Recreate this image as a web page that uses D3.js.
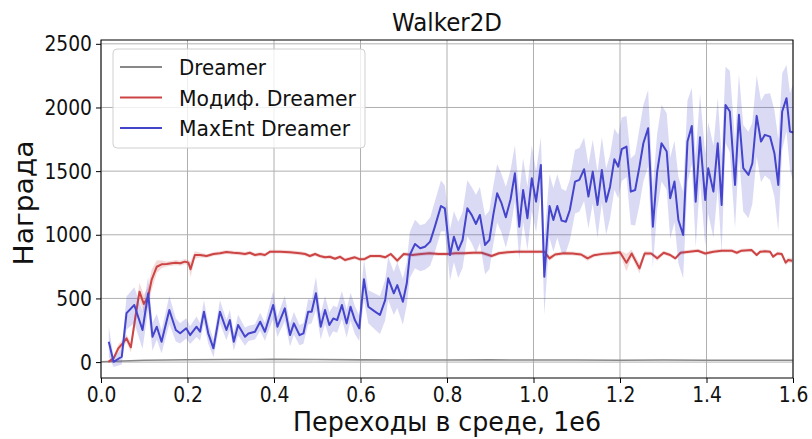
<!DOCTYPE html>
<html>
<head>
<meta charset="utf-8">
<script src="https://cdn.jsdelivr.net/npm/d3@7"></script>
<style>
body { margin: 0; background: #fff; }
text { font-family: "DejaVu Sans", sans-serif; fill: #111; }
</style>
</head>
<body>
<div id="chart"></div>
<script>
// Chart size
const W = 812, H = 439;
const margin = {top: 40, right: 19, bottom: 61, left: 101};
const width = W - margin.left - margin.right;
const height = H - margin.top - margin.bottom;

// Data (x in 1e6 steps)
const xTicks = [0, 0.2, 0.4, 0.6, 0.8, 1.0, 1.2, 1.4, 1.6];
const yTicks = [0, 500, 1000, 1500, 2000, 2500];

const grayX = [0.0, 0.05, 0.1, 0.2, 0.3, 0.4, 0.5, 0.6, 0.7, 0.8, 0.9, 1.0, 1.1, 1.2, 1.3, 1.4, 1.5, 1.6];
const grayY = [3, 8, 14, 18, 20, 21, 20, 17, 16, 16, 17, 16, 16, 15, 16, 15, 15, 15];

const redX = [0.017,0.029,0.040,0.050,0.059,0.069,0.079,0.089,0.099,0.109,0.117,0.129,0.140,0.152,0.163,0.173,0.183,0.194,0.202,0.207,0.217,0.229,0.244,0.260,0.275,0.290,0.306,0.321,0.333,0.344,0.356,0.368,0.379,0.391,0.414,0.437,0.460,0.472,0.483,0.495,0.506,0.518,0.529,0.541,0.553,0.564,0.587,0.599,0.610,0.622,0.645,0.657,0.670,0.685,0.700,0.720,0.740,0.760,0.780,0.800,0.820,0.840,0.860,0.880,0.903,0.920,0.940,0.960,0.980,1.000,1.017,1.025,1.037,1.050,1.070,1.090,1.110,1.125,1.140,1.160,1.180,1.200,1.215,1.227,1.245,1.257,1.272,1.286,1.301,1.316,1.328,1.340,1.360,1.380,1.397,1.416,1.435,1.458,1.470,1.481,1.504,1.516,1.524,1.535,1.547,1.554,1.564,1.574,1.583,1.589,1.598];
const redY = [2,29,108,147,186,116,343,553,456,513,645,749,768,770,776,781,776,789,781,729,841,841,833,849,855,865,859,855,849,859,841,849,841,867,867,863,855,849,833,849,833,823,827,812,827,802,823,807,810,833,833,823,849,797,849,841,849,855,849,849,855,855,859,859,833,855,863,867,867,867,867,867,815,845,855,853,845,815,840,850,855,862,781,853,736,853,853,815,859,841,815,859,867,875,853,867,875,875,859,875,880,841,867,870,867,828,853,849,781,802,796];
const redSd = [10,20,30,30,30,40,60,70,70,80,80,50,30,20,20,20,20,20,20,60,30,20,15,15,15,15,15,15,15,15,15,15,15,15,15,15,15,15,15,15,15,15,15,15,15,15,15,15,15,15,15,15,15,20,15,15,15,15,15,15,15,15,15,15,15,15,15,15,15,15,15,15,20,15,15,15,15,20,15,15,15,15,70,30,40,20,15,20,15,15,15,15,15,15,15,15,15,15,15,15,15,15,15,15,15,15,15,15,20,20,20];

const blueX = [0.018,0.029,0.048,0.059,0.077,0.096,0.109,0.119,0.129,0.140,0.158,0.173,0.183,0.197,0.206,0.221,0.229,0.238,0.248,0.260,0.275,0.290,0.298,0.307,0.317,0.333,0.341,0.356,0.368,0.379,0.398,0.408,0.425,0.437,0.446,0.459,0.468,0.479,0.487,0.497,0.508,0.518,0.528,0.537,0.546,0.557,0.568,0.577,0.587,0.597,0.608,0.618,0.632,0.645,0.657,0.664,0.677,0.685,0.698,0.707,0.714,0.726,0.738,0.749,0.761,0.772,0.786,0.795,0.807,0.816,0.826,0.836,0.847,0.857,0.867,0.876,0.888,0.898,0.907,0.916,0.926,0.936,0.947,0.957,0.967,0.976,0.986,0.996,1.006,1.017,1.025,1.037,1.046,1.055,1.065,1.075,1.084,1.096,1.106,1.117,1.127,1.137,1.148,1.158,1.168,1.177,1.187,1.196,1.204,1.215,1.225,1.235,1.245,1.254,1.265,1.276,1.286,1.296,1.308,1.316,1.326,1.335,1.346,1.356,1.366,1.375,1.385,1.397,1.404,1.416,1.426,1.435,1.444,1.454,1.466,1.475,1.485,1.497,1.506,1.516,1.526,1.535,1.547,1.557,1.566,1.575,1.585,1.593,1.600];
const blueY = [160,2,42,385,448,252,540,199,278,160,409,252,226,265,212,278,238,396,226,108,396,252,330,160,291,199,225,238,317,238,448,278,422,212,304,212,225,396,396,540,278,409,291,343,330,448,304,435,330,265,650,435,400,370,487,658,540,605,474,619,841,928,894,906,946,1064,1226,1208,841,985,880,959,1208,1156,1085,1156,920,959,1156,1326,1248,1138,1279,1483,1064,1352,1130,1444,1260,1549,671,1226,1116,1226,1111,1103,1195,1418,1431,1515,1300,1496,1234,1509,1260,1378,1594,1535,1672,1693,1339,1352,1535,1719,1837,1064,1496,1719,1654,1287,1418,1116,998,1732,1855,1260,1766,1274,1523,1339,1719,1234,2020,1968,1392,1942,1523,1470,1562,1934,1732,1785,1771,1641,1392,1968,2073,1811,1803];
const blueSd = [120,40,60,130,140,150,130,110,100,90,110,90,80,80,70,80,70,90,80,70,90,80,80,70,80,70,60,60,70,70,110,80,100,90,90,80,80,100,90,130,100,110,100,100,100,110,110,110,110,100,160,130,140,150,160,170,170,180,180,170,180,190,180,180,190,200,200,180,200,200,220,220,220,220,230,220,230,230,230,230,230,240,230,220,260,250,250,260,240,220,300,250,250,250,250,240,240,250,250,250,250,250,260,260,260,250,240,250,250,240,260,280,300,300,300,320,300,300,300,320,320,340,340,320,300,360,340,360,360,360,360,380,300,320,340,320,340,340,320,320,320,320,340,340,360,300,260,300,380];

const series = [
  {name: "Dreamer", color: "#888888", xs: grayX, ys: grayY, sd: null, w: 1.6},
  {name: "Модиф. Dreamer", color: "#cc4444", xs: redX, ys: redY, sd: redSd, w: 2},
  {name: "MaxEnt Dreamer", color: "#4444cc", xs: blueX, ys: blueY, sd: blueSd, w: 2}
];

const svg = d3.select("#chart").append("svg")
  .attr("width", W).attr("height", H);

const g = svg.append("g")
  .attr("transform", `translate(${margin.left},${margin.top})`);

// Scales
const x = d3.scaleLinear().domain([0, 1.6]).range([0, width]);
const y = d3.scaleLinear().domain([-125, 2530]).range([height, 0]);

// Grid
g.append("g").selectAll("line").data(xTicks).enter().append("line")
  .attr("x1", d => x(d)).attr("x2", d => x(d))
  .attr("y1", 0).attr("y2", height)
  .attr("stroke", "#b0b0b0").attr("stroke-width", 1);
g.append("g").selectAll("line").data(yTicks).enter().append("line")
  .attr("y1", d => y(d)).attr("y2", d => y(d))
  .attr("x1", 0).attr("x2", width)
  .attr("stroke", "#b0b0b0").attr("stroke-width", 1);

// Bands and lines
series.forEach(s => {
  const pts = s.xs.map((v, i) => ({x: v, y: s.ys[i], sd: s.sd ? s.sd[i] : 0}));
  if (s.sd) {
    g.append("path").datum(pts)
      .attr("fill", s.color).attr("fill-opacity", 0.2)
      .attr("d", d3.area().x(d => x(d.x)).y0(d => y(d.y - d.sd)).y1(d => y(d.y + d.sd)));
  }
  g.append("path").datum(pts)
    .attr("fill", "none").attr("stroke", s.color).attr("stroke-width", s.w)
    .attr("stroke-linejoin", "round")
    .attr("d", d3.line().x(d => x(d.x)).y(d => y(d.y)));
});

// Frame
g.append("rect").attr("width", width).attr("height", height)
  .attr("fill", "none").attr("stroke", "#000").attr("stroke-width", 1);

// Axes
const sx = 0.85;
const xAxis = g.append("g").attr("transform", `translate(0,${height})`)
  .call(d3.axisBottom(x).tickValues(xTicks).tickFormat(d3.format(".1f")).tickSize(5).tickPadding(3));
const yAxis = g.append("g")
  .call(d3.axisLeft(y).tickValues(yTicks).tickFormat(d3.format("d")).tickSize(5).tickPadding(4));
[xAxis, yAxis].forEach(a => {
  a.select(".domain").remove();
  a.selectAll("text").attr("font-size", 22).attr("fill", "#111")
    .attr("font-family", "DejaVu Sans")
    .attr("transform", `scale(${sx},1)`);
});
yAxis.selectAll("text").attr("x", -9 / sx);

// Title and labels
svg.append("text").attr("x", margin.left + width / 2).attr("y", 31)
  .attr("text-anchor", "middle").attr("font-size", 25)
  .attr("textLength", 110).attr("lengthAdjust", "spacingAndGlyphs")
  .text("Walker2D");
svg.append("text").attr("x", margin.left + width / 2).attr("y", 431)
  .attr("text-anchor", "middle").attr("font-size", 26)
  .attr("textLength", 308).attr("lengthAdjust", "spacingAndGlyphs")
  .text("Переходы в среде, 1e6");
svg.append("text")
  .attr("transform", `translate(33,${margin.top + 163}) rotate(-90)`)
  .attr("text-anchor", "middle").attr("font-size", 27)
  .attr("textLength", 125).attr("lengthAdjust", "spacingAndGlyphs")
  .text("Награда");

// Legend
const legend = svg.append("g").attr("transform", "translate(113,49)");
legend.append("rect").attr("width", 252).attr("height", 99).attr("rx", 4)
  .attr("fill", "#fff").attr("fill-opacity", 0.8)
  .attr("stroke", "#d0d0d0").attr("stroke-width", 1);
const legW = [87, 177, 171];
series.forEach((s, i) => {
  const ly = 18 + i * 30.5;
  legend.append("line").attr("x1", 7).attr("x2", 49).attr("y1", ly).attr("y2", ly)
    .attr("stroke", s.color).attr("stroke-width", 2);
  legend.append("text").attr("x", 66).attr("y", ly + 8).attr("font-size", 22)
    .attr("textLength", legW[i]).attr("lengthAdjust", "spacingAndGlyphs")
    .text(s.name);
});
</script>
</body>
</html>
